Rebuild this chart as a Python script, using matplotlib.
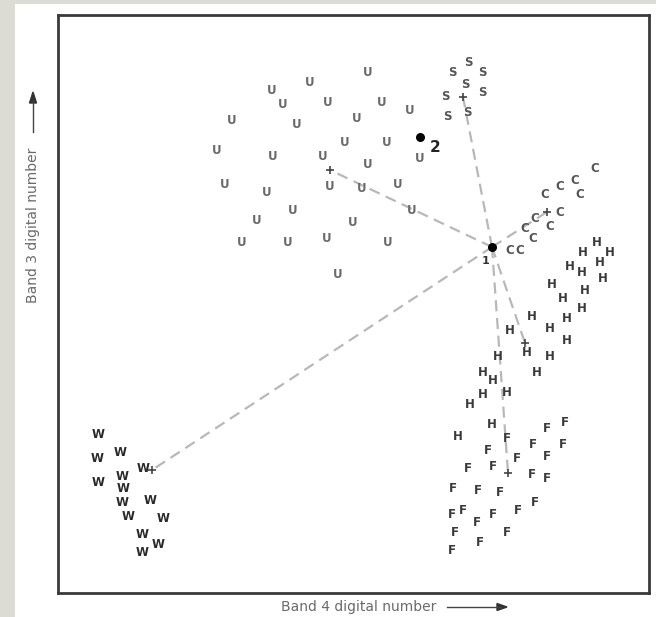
import matplotlib.pyplot as plt
import numpy as np

# Training samples per class (band 4 DN, band 3 DN)
u_b4 = [310, 252, 214, 225, 270, 324, 352, 174, 239, 299, 287, 329, 159, 215, 265, 362,
        310, 167, 272, 304, 340, 209, 354, 235, 199, 295, 269, 184, 230, 330, 280]
u_b3 = [520, 511, 503, 488, 490, 491, 483, 473, 468, 475, 451, 451, 443, 436, 436, 435,
        428, 408, 406, 405, 408, 400, 383, 383, 373, 371, 355, 350, 350, 350, 318]

s_b4 = [410, 394, 424, 407, 387, 424, 389, 409]
s_b3 = [530, 520, 520, 508, 496, 501, 476, 481]

c_b4 = [537, 517, 502, 487, 522, 502, 477, 492, 467, 475, 452, 462]
c_b3 = [425, 413, 406, 398, 398, 381, 375, 366, 365, 355, 343, 343]

h_b4 = [539, 525, 552, 542, 512, 524, 545, 494, 527, 505, 524, 509, 474, 452, 492, 509,
        469, 492, 440, 479, 425, 435, 449, 425, 412, 434, 400]
h_b3 = [350, 341, 340, 330, 326, 320, 315, 308, 303, 295, 285, 275, 276, 263, 265, 253,
        241, 236, 236, 220, 220, 213, 200, 198, 189, 168, 156]

f_b4 = [489, 507, 449, 505, 475, 430, 459, 489, 435, 410, 474, 489, 395, 420, 442, 477,
        460, 405, 394, 435, 419, 397, 449, 422, 394]
f_b3 = [165, 170, 155, 148, 148, 143, 135, 136, 126, 125, 118, 115, 105, 103, 101, 91,
        83, 83, 78, 78, 70, 61, 61, 50, 43]

w_b4 = [40, 62, 39, 85, 64, 40, 65, 64, 92, 70, 105, 84, 100, 84]
w_b3 = [158, 141, 135, 125, 116, 110, 104, 90, 93, 76, 75, 58, 48, 40]

# Class means
mean_names = ["U", "S", "C", "H", "F", "W"]
mean_b4 = [272, 405, 489, 467, 450, 94]
mean_b3 = [423, 496, 381, 250, 120, 123]

# Unknown pixels
unk_labels = ["1", "2"]
unk_b4 = [434, 362]
unk_b3 = [346, 456]

fig = plt.figure(figsize=(6.56, 6.17), dpi=100)
fig.patch.set_facecolor("#dcdcd4")
# white paper area
fig.patches.append(plt.Rectangle((15 / 656, 0), 1, 1 - 4 / 617, transform=fig.transFigure,
                                 facecolor="white", edgecolor="none", zorder=-10))

ax = fig.add_axes([58 / 656, 1 - 593 / 617, 591 / 656, 578 / 617])
ax.set_zorder(5)
ax.set_xlim(0, 591)
ax.set_ylim(0, 578)
ax.set_xticks([])
ax.set_yticks([])
for sp in ax.spines.values():
    sp.set_linewidth(2)
    sp.set_color("#3a3a3a")

# distance lines from pixel 1 to every class mean
for mx, my in zip(mean_b4, mean_b3):
    ax.plot([unk_b4[0], mx], [unk_b3[0], my], color="#b8b8b8", lw=1.6,
            linestyle=(0, (5, 3)), zorder=1)

groups = [("U", u_b4, u_b3, "#6a6a6a"), ("S", s_b4, s_b3, "#555555"),
          ("C", c_b4, c_b3, "#555555"), ("H", h_b4, h_b3, "#3a3a3a"),
          ("F", f_b4, f_b3, "#3a3a3a"), ("W", w_b4, w_b3, "#2a2a2a")]
for letter, xs, ys, col in groups:
    for x, y in zip(xs, ys):
        ax.text(x, y, letter, ha="center", va="center", fontsize=8.5,
                fontweight="bold", color=col, zorder=3)

ax.scatter(mean_b4, mean_b3, marker="+", s=40, color="#444444", linewidths=1.2, zorder=4)
ax.scatter(unk_b4, unk_b3, s=30, color="black", zorder=5)
ax.text(unk_b4[0] - 6, unk_b3[0] - 14, unk_labels[0], fontsize=8, fontweight="bold",
        color="#333333", ha="center", va="center")
ax.text(unk_b4[1] + 15, unk_b3[1] - 10, unk_labels[1], fontsize=11, fontweight="bold",
        color="#222222", ha="center", va="center")

# axis labels with arrows
fig.text(359 / 656, 1 - 607 / 617, "Band 4 digital number", fontsize=10, color="#6a6a6a",
         ha="center", va="center")
fig.add_artist(plt.Line2D([447 / 656, 500 / 656], [1 - 607 / 617] * 2, color="#444444", lw=1))
fig.add_artist(plt.Polygon([[507 / 656, 1 - 607 / 617], [497 / 656, 1 - 603.5 / 617],
                            [497 / 656, 1 - 610.5 / 617]], closed=True,
                           transform=fig.transFigure, color="#333333"))

fig.text(33 / 656, 1 - 225 / 617, "Band 3 digital number", fontsize=10, color="#6a6a6a",
         ha="center", va="center", rotation=90)
fig.add_artist(plt.Line2D([33 / 656] * 2, [1 - 132 / 617, 1 - 100 / 617], color="#444444", lw=1))
fig.add_artist(plt.Polygon([[33 / 656, 1 - 92 / 617], [29.5 / 656, 1 - 103 / 617],
                            [36.5 / 656, 1 - 103 / 617]], closed=True,
                           transform=fig.transFigure, color="#333333"))

fig.savefig("out.png", dpi=100, facecolor=fig.get_facecolor())
